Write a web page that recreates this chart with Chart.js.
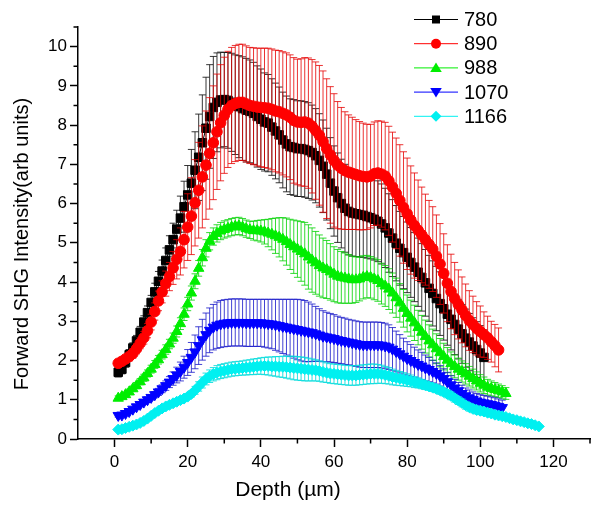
<!DOCTYPE html>
<html>
<head>
<meta charset="utf-8">
<script src="https://cdn.jsdelivr.net/npm/chart.js"></script>
<style>
  html, body { margin: 0; padding: 0; background: #fff; }
  #wrap { width: 602px; height: 513px; }
</style>
</head>
<body>
<div id="wrap"><canvas id="c" width="602" height="513"></canvas></div>
<script>
// ---------------- DATA ----------------
const seriesNames = ['780', '890', '988', '1070', '1166'];
const xTitle = 'Depth (\u00b5m)';
const yTitle = 'Forward SHG Intensity(arb units)';
const xTickLabels = ['0', '20', '40', '60', '80', '100', '120'];
const yTickLabels = ['0', '1', '2', '3', '4', '5', '6', '7', '8', '9', '10'];

const depth = [1,2,3,4,5,6,7,8,9,10,11,12,13,14,15,16,17,18,19,20,21,22,23,24,25,26,27,28,29,30,31,32,33,34,35,36,37,38,39,40,41,42,43,44,45,46,47,48,49,50,51,52,53,54,55,56,57,58,59,60,61,62,63,64,65,66,67,68,69,70,71,72,73,74,75,76,77,78,79,80,81,82,83,84,85,86,87,88,89,90,91,92,93,94,95,96,97,98,99,100,101,102,103,104,105,106,107,108,109,110,111,112,113,114,115,116];

const s780 = [1.70,1.78,1.95,2.15,2.32,2.50,2.72,2.98,3.22,3.48,3.75,4.02,4.28,4.55,4.82,5.08,5.35,5.63,5.92,6.22,6.52,6.85,7.18,7.55,7.92,8.22,8.45,8.58,8.64,8.65,8.63,8.58,8.52,8.47,8.42,8.38,8.35,8.30,8.22,8.15,8.08,8.05,7.95,7.85,7.75,7.62,7.52,7.45,7.43,7.40,7.40,7.38,7.35,7.30,7.22,7.10,6.95,6.75,6.52,6.32,6.15,6.00,5.88,5.80,5.76,5.74,5.72,5.70,5.67,5.64,5.60,5.55,5.48,5.38,5.25,5.12,4.99,4.86,4.75,4.63,4.50,4.38,4.25,4.12,3.98,3.84,3.71,3.58,3.45,3.32,3.18,3.05,2.92,2.80,2.68,2.57,2.47,2.37,2.28,2.19,2.08];
const e780 = [0.12,0.12,0.12,0.13,0.13,0.14,0.15,0.16,0.17,0.18,0.22,0.25,0.28,0.32,0.36,0.42,0.48,0.56,0.65,0.75,0.86,0.98,1.10,1.22,1.30,1.32,1.30,1.26,1.22,1.20,1.22,1.25,1.27,1.30,1.32,1.32,1.31,1.30,1.29,1.28,1.25,1.24,1.23,1.22,1.22,1.22,1.22,1.22,1.22,1.22,1.22,1.22,1.22,1.21,1.20,1.19,1.18,1.17,1.16,1.15,1.14,1.13,1.12,1.11,1.10,1.09,1.08,1.07,1.06,1.05,1.04,1.03,1.02,1.01,1.00,0.98,0.96,0.94,0.92,0.90,0.89,0.88,0.87,0.86,0.85,0.84,0.83,0.82,0.81,0.80,0.79,0.78,0.77,0.76,0.75,0.74,0.73,0.72,0.71,0.70,0.70];

const s890 = [1.93,1.98,2.04,2.10,2.18,2.30,2.44,2.58,2.76,2.98,3.25,3.52,3.75,3.96,4.14,4.36,4.58,4.78,5.08,5.40,5.68,6.02,6.34,6.68,6.98,7.28,7.55,7.83,8.06,8.25,8.40,8.50,8.55,8.58,8.58,8.54,8.50,8.48,8.46,8.45,8.44,8.43,8.40,8.36,8.34,8.30,8.26,8.20,8.12,8.08,8.07,8.08,8.05,7.97,7.86,7.74,7.58,7.40,7.24,7.10,6.98,6.90,6.84,6.80,6.77,6.74,6.71,6.69,6.68,6.70,6.76,6.78,6.75,6.70,6.58,6.42,6.26,6.08,5.90,5.74,5.58,5.44,5.32,5.20,5.08,4.96,4.84,4.66,4.46,4.22,3.97,3.76,3.58,3.43,3.29,3.15,3.02,2.92,2.82,2.74,2.66,2.58,2.48,2.38,2.27];
const e890 = [0.10,0.10,0.10,0.11,0.12,0.13,0.14,0.16,0.18,0.20,0.22,0.25,0.28,0.32,0.36,0.42,0.50,0.60,0.72,0.85,0.98,1.10,1.22,1.30,1.38,1.42,1.45,1.47,1.48,1.48,1.48,1.48,1.48,1.48,1.48,1.48,1.48,1.49,1.50,1.51,1.52,1.53,1.54,1.55,1.56,1.57,1.58,1.59,1.60,1.60,1.62,1.64,1.66,1.70,1.75,1.78,1.80,1.78,1.74,1.70,1.62,1.55,1.50,1.46,1.43,1.40,1.38,1.36,1.34,1.32,1.32,1.33,1.35,1.37,1.39,1.40,1.41,1.42,1.42,1.42,1.38,1.34,1.28,1.22,1.16,1.12,1.08,1.05,1.03,1.01,0.98,0.95,0.92,0.88,0.84,0.80,0.76,0.72,0.68,0.65,0.58,0.55,0.52,0.54,0.56];

const s988 = [1.04,1.08,1.13,1.20,1.28,1.36,1.46,1.56,1.67,1.78,1.90,2.02,2.15,2.28,2.42,2.57,2.74,2.94,3.18,3.44,3.72,4.02,4.35,4.62,4.86,5.04,5.16,5.24,5.30,5.34,5.37,5.40,5.42,5.43,5.40,5.36,5.33,5.31,5.31,5.30,5.28,5.25,5.22,5.18,5.14,5.09,5.03,4.96,4.90,4.84,4.78,4.72,4.64,4.56,4.49,4.42,4.36,4.32,4.26,4.20,4.15,4.12,4.10,4.08,4.06,4.06,4.08,4.12,4.14,4.12,4.08,4.04,3.96,3.90,3.82,3.72,3.60,3.47,3.33,3.20,3.08,2.96,2.84,2.72,2.61,2.50,2.40,2.30,2.20,2.10,2.01,1.92,1.85,1.78,1.72,1.66,1.60,1.54,1.48,1.42,1.37,1.32,1.29,1.26,1.23,1.20,1.16];
const e988 = [0.06,0.06,0.06,0.07,0.07,0.08,0.08,0.09,0.09,0.10,0.10,0.11,0.11,0.12,0.12,0.13,0.14,0.15,0.16,0.17,0.18,0.19,0.20,0.21,0.22,0.22,0.22,0.22,0.22,0.22,0.22,0.22,0.22,0.22,0.22,0.22,0.22,0.24,0.26,0.28,0.31,0.35,0.40,0.45,0.50,0.55,0.60,0.64,0.68,0.72,0.76,0.80,0.82,0.82,0.80,0.78,0.76,0.74,0.72,0.70,0.68,0.66,0.64,0.62,0.60,0.58,0.56,0.55,0.54,0.53,0.53,0.53,0.52,0.52,0.52,0.51,0.50,0.49,0.48,0.47,0.46,0.45,0.44,0.43,0.42,0.41,0.40,0.38,0.36,0.34,0.32,0.30,0.29,0.28,0.27,0.26,0.25,0.24,0.23,0.22,0.21,0.20,0.19,0.18,0.17,0.16,0.15];

const s1070 = [0.60,0.61,0.65,0.70,0.76,0.82,0.88,0.94,1.00,1.06,1.13,1.20,1.28,1.36,1.45,1.54,1.63,1.72,1.83,1.95,2.08,2.22,2.38,2.53,2.66,2.77,2.85,2.90,2.93,2.95,2.96,2.97,2.97,2.97,2.97,2.96,2.96,2.96,2.96,2.96,2.95,2.94,2.93,2.91,2.89,2.87,2.85,2.83,2.81,2.79,2.77,2.75,2.73,2.71,2.68,2.65,2.62,2.60,2.58,2.56,2.53,2.51,2.49,2.47,2.45,2.43,2.41,2.40,2.40,2.40,2.40,2.40,2.39,2.37,2.34,2.29,2.23,2.17,2.11,2.05,2.00,1.95,1.90,1.86,1.81,1.77,1.72,1.67,1.61,1.54,1.46,1.38,1.30,1.23,1.16,1.10,1.05,1.01,0.97,0.94,0.92,0.90,0.88,0.86,0.83,0.80];
const e1070 = [0.04,0.04,0.04,0.05,0.05,0.05,0.06,0.06,0.07,0.07,0.08,0.09,0.10,0.12,0.14,0.17,0.20,0.24,0.28,0.33,0.38,0.43,0.48,0.52,0.55,0.57,0.58,0.59,0.60,0.60,0.60,0.60,0.60,0.60,0.60,0.60,0.60,0.60,0.60,0.60,0.61,0.62,0.63,0.65,0.67,0.69,0.71,0.73,0.75,0.77,0.78,0.78,0.76,0.73,0.70,0.67,0.65,0.63,0.62,0.61,0.60,0.59,0.59,0.58,0.58,0.58,0.58,0.58,0.58,0.58,0.58,0.58,0.58,0.58,0.57,0.55,0.52,0.49,0.46,0.43,0.41,0.39,0.37,0.35,0.33,0.31,0.29,0.27,0.26,0.25,0.24,0.23,0.22,0.21,0.21,0.20,0.20,0.19,0.19,0.19,0.19,0.19,0.19,0.19,0.19,0.19];

const s1166 = [0.24,0.25,0.28,0.31,0.34,0.37,0.41,0.46,0.52,0.59,0.66,0.72,0.78,0.83,0.87,0.91,0.95,0.99,1.03,1.08,1.15,1.24,1.34,1.44,1.53,1.60,1.65,1.69,1.72,1.74,1.76,1.78,1.79,1.80,1.81,1.82,1.83,1.84,1.85,1.86,1.86,1.86,1.85,1.85,1.84,1.84,1.83,1.82,1.81,1.80,1.79,1.78,1.77,1.76,1.75,1.73,1.71,1.69,1.67,1.66,1.65,1.64,1.63,1.62,1.62,1.62,1.63,1.64,1.65,1.66,1.66,1.66,1.65,1.63,1.61,1.58,1.56,1.54,1.52,1.50,1.48,1.45,1.43,1.40,1.37,1.34,1.31,1.28,1.24,1.20,1.15,1.10,1.04,0.98,0.92,0.86,0.81,0.77,0.74,0.72,0.70,0.67,0.65,0.62,0.60,0.58,0.56,0.53,0.50,0.48,0.45,0.43,0.40,0.38,0.35,0.32];
const e1166 = [0.03,0.03,0.03,0.03,0.03,0.03,0.03,0.04,0.04,0.04,0.04,0.04,0.04,0.05,0.05,0.05,0.05,0.05,0.06,0.06,0.08,0.10,0.12,0.14,0.15,0.16,0.17,0.18,0.18,0.18,0.18,0.18,0.18,0.18,0.18,0.19,0.19,0.20,0.20,0.21,0.22,0.23,0.24,0.25,0.26,0.27,0.28,0.29,0.30,0.30,0.30,0.30,0.29,0.28,0.27,0.26,0.26,0.25,0.25,0.25,0.25,0.25,0.25,0.25,0.25,0.25,0.25,0.25,0.25,0.25,0.25,0.24,0.23,0.22,0.21,0.20,0.19,0.18,0.17,0.16,0.15,0.14,0.13,0.12,0.11,0.10,0.10,0.10,0.10,0.10,0.10,0.10,0.10,0.10,0.10,0.10,0.10,0.10,0.10,0.10,0.09,0.08,0.07,0.06,0.05,0.04,0,0,0,0,0,0,0,0,0,0];

const seriesValues = [s780, s890, s988, s1070, s1166];
const seriesErrors = [e780, e890, e988, e1070, e1166];

// ---------------- STYLE ----------------
const colors = ['#000000', '#ff0000', '#00ee00', '#0000ff', '#00f0f0'];
const errColors = ['rgba(20,20,20,0.85)', 'rgba(230,0,0,0.8)', 'rgba(0,210,0,0.8)', 'rgba(20,20,200,0.8)', 'rgba(0,220,220,0.85)'];
const pointStyles = ['rect', 'circle', 'triangle', 'triangle', 'rectRot'];
const pointRotations = [0, 0, 0, 180, 0];
const pointRadii = [6, 5.3, 6, 6, 5.5];
const FONT = "'Liberation Sans', Arial, Helvetica, sans-serif";

const datasets = seriesNames.map((name, k) => ({
  label: name,
  data: seriesValues[k].map((v, i) => ({ x: depth[i], y: v })),
  errors: seriesErrors[k],
  errColor: errColors[k],
  borderColor: colors[k],
  backgroundColor: colors[k],
  borderWidth: 1,
  pointStyle: pointStyles[k],
  rotation: pointRotations[k],
  pointRadius: pointRadii[k],
  pointBorderWidth: 1,
  pointBackgroundColor: colors[k],
  pointBorderColor: colors[k],
  order: seriesNames.length - k,
  showLine: true,
  tension: 0
}));

// error bars drawn right before each dataset's markers
const errorBarPlugin = {
  id: 'errorBars',
  beforeDatasetDraw(chart, args) {
    const ds = chart.data.datasets[args.index];
    const meta = args.meta;
    const yScale = chart.scales.y;
    const ctx = chart.ctx;
    const a = chart.chartArea;
    ctx.save();
    ctx.beginPath();
    ctx.rect(a.left, a.top, a.right - a.left, a.bottom - a.top);
    ctx.clip();
    ctx.strokeStyle = ds.errColor;
    ctx.lineWidth = 1;
    ctx.beginPath();
    meta.data.forEach((pt, i) => {
      const e = ds.errors[i];
      if (!e) return;
      const v = ds.data[i].y;
      const x = pt.x;
      const yt = yScale.getPixelForValue(v + e);
      const yb = yScale.getPixelForValue(v - e);
      ctx.moveTo(x, yt); ctx.lineTo(x, yb);
      ctx.moveTo(x - 3.5, yt); ctx.lineTo(x + 3.5, yt);
      ctx.moveTo(x - 3.5, yb); ctx.lineTo(x + 3.5, yb);
    });
    ctx.stroke();
    ctx.restore();
  }
};

// minor ticks, axis titles and legend
const decorPlugin = {
  id: 'decor',
  afterDraw(chart) {
    const ctx = chart.ctx;
    const xs = chart.scales.x, ys = chart.scales.y;
    const a = chart.chartArea;
    ctx.save();
    ctx.strokeStyle = '#000';
    ctx.lineWidth = 1.5;
    ctx.beginPath();
    xs.ticks.forEach(t => {
      if (t.value % 20 !== 0 && t.value > xs.min) {
        const px = xs.getPixelForValue(t.value);
        ctx.moveTo(px, a.bottom); ctx.lineTo(px, a.bottom + 4.5);
      }
    });
    ys.ticks.forEach(t => {
      if (Math.abs(t.value - Math.round(t.value)) > 0.01) {
        const py = ys.getPixelForValue(t.value);
        ctx.moveTo(a.left, py); ctx.lineTo(a.left - 4.5, py);
      }
    });
    ctx.stroke();

    // axis titles
    ctx.fillStyle = '#000';
    ctx.font = '21px ' + FONT;
    ctx.textAlign = 'center';
    ctx.textBaseline = 'middle';
    ctx.fillText(xTitle, 288, 490);
    ctx.save();
    ctx.translate(22, 244);
    ctx.rotate(-Math.PI / 2);
    ctx.font = '20px ' + FONT;
    ctx.fillText(yTitle, 0, 0);
    ctx.restore();

    // legend
    const lx0 = 414, lx1 = 458, mx = 436, tx = 464;
    const rowY0 = 19.5, rowH = 24.2;
    chart.data.datasets.forEach((ds, k) => {
      const y = rowY0 + k * rowH;
      ctx.strokeStyle = ds.borderColor;
      ctx.lineWidth = 1;
      ctx.beginPath();
      ctx.moveTo(lx0, y); ctx.lineTo(lx1, y);
      ctx.stroke();
      ctx.fillStyle = ds.borderColor;
      const r = 5.5;
      ctx.beginPath();
      if (ds.pointStyle === 'rect') {
        ctx.rect(mx - 4, y - 4, 8, 8);
      } else if (ds.pointStyle === 'circle') {
        ctx.arc(mx, y, 5, 0, Math.PI * 2);
      } else if (ds.pointStyle === 'triangle' && ds.rotation === 0) {
        ctx.moveTo(mx, y - r); ctx.lineTo(mx + r * 1.05, y + r * 0.75); ctx.lineTo(mx - r * 1.05, y + r * 0.75); ctx.closePath();
      } else if (ds.pointStyle === 'triangle') {
        ctx.moveTo(mx, y + r); ctx.lineTo(mx + r * 1.05, y - r * 0.75); ctx.lineTo(mx - r * 1.05, y - r * 0.75); ctx.closePath();
      } else {
        ctx.moveTo(mx, y - r); ctx.lineTo(mx + r, y); ctx.lineTo(mx, y + r); ctx.lineTo(mx - r, y); ctx.closePath();
      }
      ctx.fill();
      ctx.fillStyle = '#000';
      ctx.font = '20px ' + FONT;
      ctx.textAlign = 'left';
      ctx.textBaseline = 'middle';
      ctx.fillText(ds.label, tx, y + 1);
    });
    ctx.restore();
  }
};

new Chart(document.getElementById('c'), {
  type: 'scatter',
  data: { datasets },
  options: {
    responsive: false,
    animation: false,
    devicePixelRatio: 1,
    layout: { padding: { left: 0, right: 12, top: 27, bottom: 0 } },
    plugins: { legend: { display: false }, tooltip: { enabled: false }, title: { display: false } },
    scales: {
      x: {
        type: 'linear',
        min: -10, max: 130,
        afterFit: s => { s.height = 74; },
        border: { display: true, color: '#000', width: 1.5 },
        grid: {
          display: true, drawOnChartArea: false, drawTicks: true, tickLength: 8, tickWidth: 1.5,
          tickColor: c => (c.tick && c.tick.value % 20 === 0 ? '#000' : 'rgba(0,0,0,0)')
        },
        ticks: {
          stepSize: 10, autoSkip: false, maxRotation: 0, padding: 5,
          color: '#000', font: { family: FONT, size: 17 },
          callback: v => (v % 20 === 0 && v >= 0 && v <= 120 ? xTickLabels[v / 20] : '')
        }
      },
      y: {
        type: 'linear',
        min: 0, max: 10.5,
        afterFit: s => { s.width = 78; },
        border: { display: true, color: '#000', width: 1.5 },
        grid: {
          display: true, drawOnChartArea: false, drawTicks: true, tickLength: 8, tickWidth: 1.5,
          tickColor: c => (c.tick && Math.abs(c.tick.value - Math.round(c.tick.value)) < 0.01 ? '#000' : 'rgba(0,0,0,0)')
        },
        ticks: {
          stepSize: 0.5, autoSkip: false, padding: 3,
          color: '#000', font: { family: FONT, size: 17 },
          callback: v => (Math.abs(v - Math.round(v)) < 0.01 && v <= 10 ? yTickLabels[Math.round(v)] : '')
        }
      }
    }
  },
  plugins: [errorBarPlugin, decorPlugin]
});
</script>
</body>
</html>
